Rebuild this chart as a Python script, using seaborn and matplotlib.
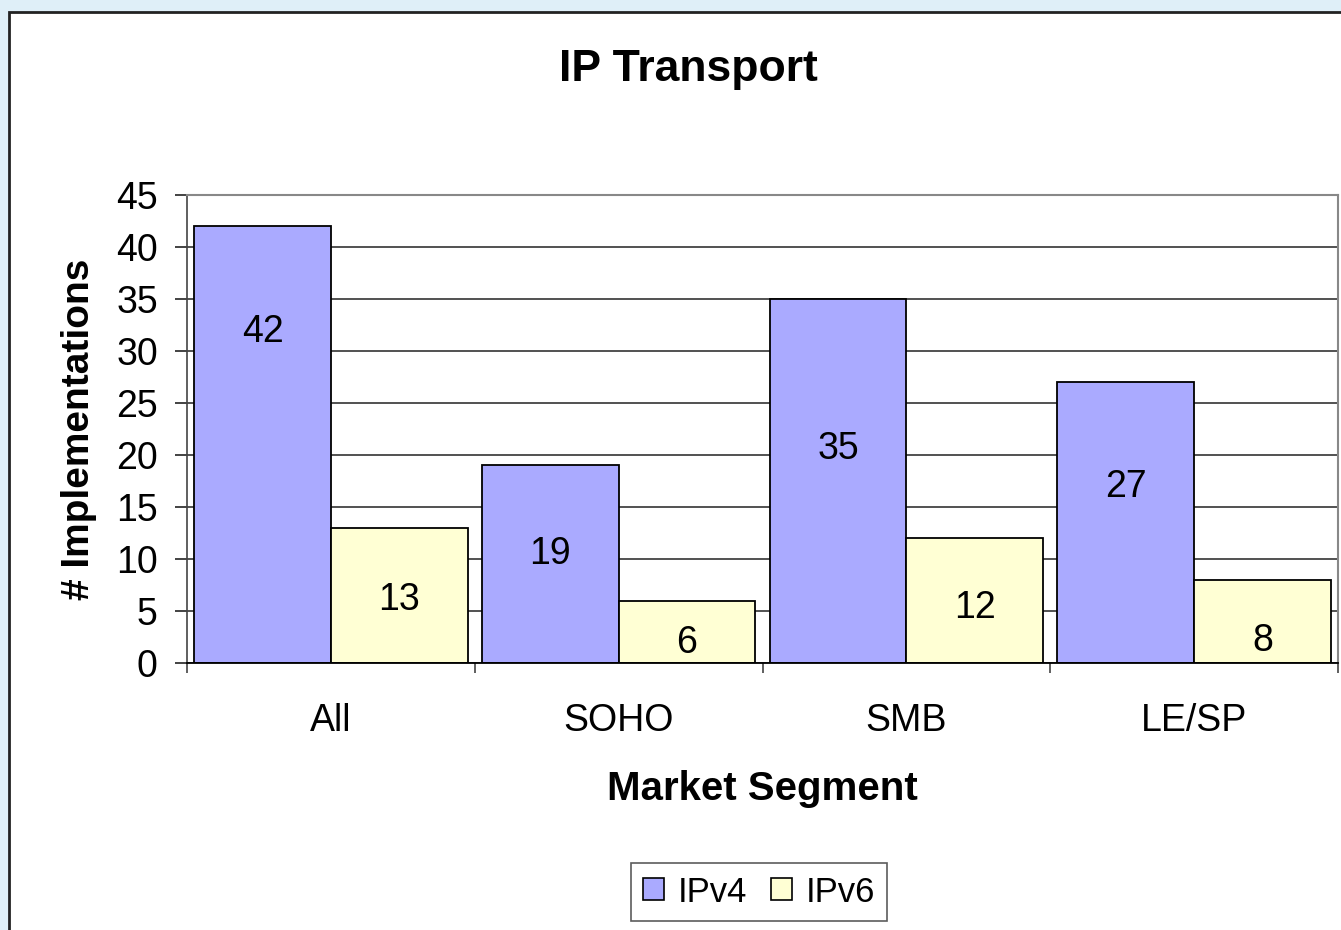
import pandas as pd
import seaborn as sns
import matplotlib.pyplot as plt
from matplotlib.patches import Rectangle, Patch

segments = ["All", "SOHO", "SMB", "LE/SP"]
ipv4 = [42, 19, 35, 27]
ipv6 = [13, 6, 12, 8]
protocols = ["IPv4", "IPv6"]

# where the value labels sit inside each bar (data units, as in the original)
label_y_ipv4 = [31.8, 10.5, 20.6, 16.9]
label_y_ipv6 = [6.1, 1.9, 5.3, 2.1]

colors = ["#AAAAFF", "#FFFFD4"]

df = pd.DataFrame({
    "segment": segments * 2,
    "count": ipv4 + ipv6,
    "proto": ["IPv4"] * 4 + ["IPv6"] * 4,
})

sns.set_style("white")
plt.rcParams["font.family"] = ["Liberation Sans", "DejaVu Sans"]
plt.rcParams["text.color"] = "black"
plt.rcParams["axes.labelcolor"] = "black"
plt.rcParams["xtick.color"] = "black"
plt.rcParams["ytick.color"] = "black"

fig = plt.figure(figsize=(13.41, 9.30), dpi=100)
fig.patch.set_facecolor("#DFEFF8")

# white panel with black frame, cut off at right and bottom
fig.patches.append(Rectangle(
    (9 / 1341, -0.2), 1.2, 0.2 + (930 - 12) / 930,
    transform=fig.transFigure, facecolor="white",
    edgecolor="#222222", linewidth=2, zorder=-10
))

ax = fig.add_axes([187 / 1341, (930 - 663) / 930, 1151 / 1341, 468 / 930])
ax.set_facecolor("white")

sns.barplot(
    data=df,
    x="segment",
    y="count",
    hue="proto",
    hue_order=protocols,
    palette=colors,
    saturation=1,
    width=0.95,
    edgecolor="black",
    linewidth=1.3,
    legend=False,
    ax=ax,
)

for cont, ys, vals in zip(ax.containers, [label_y_ipv4, label_y_ipv6], [ipv4, ipv6]):
    for bar, y, v in zip(cont, ys, vals):
        ax.text(
            bar.get_x() + bar.get_width() / 2, y, str(v),
            ha="center", va="center", fontsize=27, color="black"
        )

ax.set_ylim(0, 45)
ax.set_xlim(-0.5, 3.5)
ax.set_yticks(range(0, 46, 5))
ax.yaxis.grid(True, color="#222222", linewidth=1.1)
ax.set_axisbelow(True)

ax.tick_params(axis="y", labelsize=27, length=9, width=1.2,
               color="#222222", pad=12, left=True, direction="out")
ax.tick_params(axis="x", which="major", labelsize=27, length=0, pad=29)
ax.set_xticks([-0.5, 0.5, 1.5, 2.5, 3.5], minor=True)
ax.tick_params(axis="x", which="minor", length=7, width=1.2,
               color="#444444", bottom=True, direction="out")

for side in ["top", "right"]:
    ax.spines[side].set_color("#888888")
    ax.spines[side].set_linewidth(1.5)
ax.spines["left"].set_color("#444444")
ax.spines["left"].set_linewidth(1.2)
ax.spines["bottom"].set_color("black")
ax.spines["bottom"].set_linewidth(1.3)

ax.set_xlabel("Market Segment", fontsize=29, fontweight="bold", labelpad=22)
ax.set_ylabel("# Implementations", fontsize=28, fontweight="bold", labelpad=14)

fig.text(688 / 1341, (930 - 70) / 930, "IP Transport",
         ha="center", va="center", fontsize=32, fontweight="bold")

handles = [
    Patch(facecolor=c, edgecolor="black", linewidth=1.2, label=p)
    for c, p in zip(colors, protocols)
]
leg = fig.legend(
    handles=handles,
    loc="center",
    bbox_to_anchor=(759 / 1341, (930 - 892) / 930),
    ncol=2,
    fontsize=25,
    frameon=True,
    fancybox=False,
    edgecolor="#333333",
    handlelength=0.6,
    handleheight=0.6,
    handletextpad=0.4,
    columnspacing=0.7,
    borderpad=0.35,
)
leg.get_frame().set_linewidth(1.2)

plt.savefig("out.png", dpi=100, facecolor=fig.get_facecolor())
